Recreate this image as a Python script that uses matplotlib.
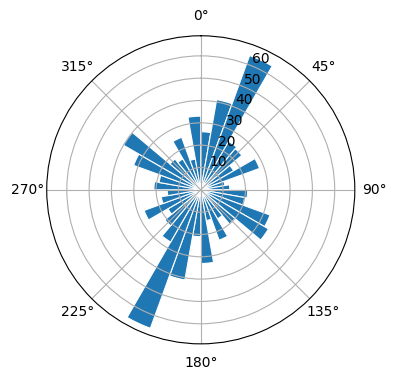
import numpy as np
import matplotlib
matplotlib.use('Agg')
import matplotlib.pyplot as plt

# 36 direction bins of 10 degrees, bar starts at the bin edge
bin_start_deg = list(range(0, 360, 10))
counts = [26, 41, 64, 25, 24, 17, 28, 11, 13,
          21, 20, 33, 35, 20, 15, 24, 14, 33,
          21, 41, 66, 27, 21, 17, 27, 18, 15,
          21, 19, 32, 40, 18, 16, 25, 14, 33]

theta = np.deg2rad(bin_start_deg)
width = np.deg2rad(10)

fig = plt.figure(figsize=(3.96, 3.8), dpi=100)
ax = fig.add_axes([0.118, 0.095, 0.778, 0.811], projection='polar')
ax.set_theta_zero_location('N')
ax.set_theta_direction(-1)

ax.bar(theta, counts, width=width, align='edge', color='#1f77b4',
       edgecolor='white', linewidth=0.8)

ax.set_ylim(0, 69)
ax.set_yticks([10, 20, 30, 40, 50, 60])

fig.savefig('out.png', dpi=100)
